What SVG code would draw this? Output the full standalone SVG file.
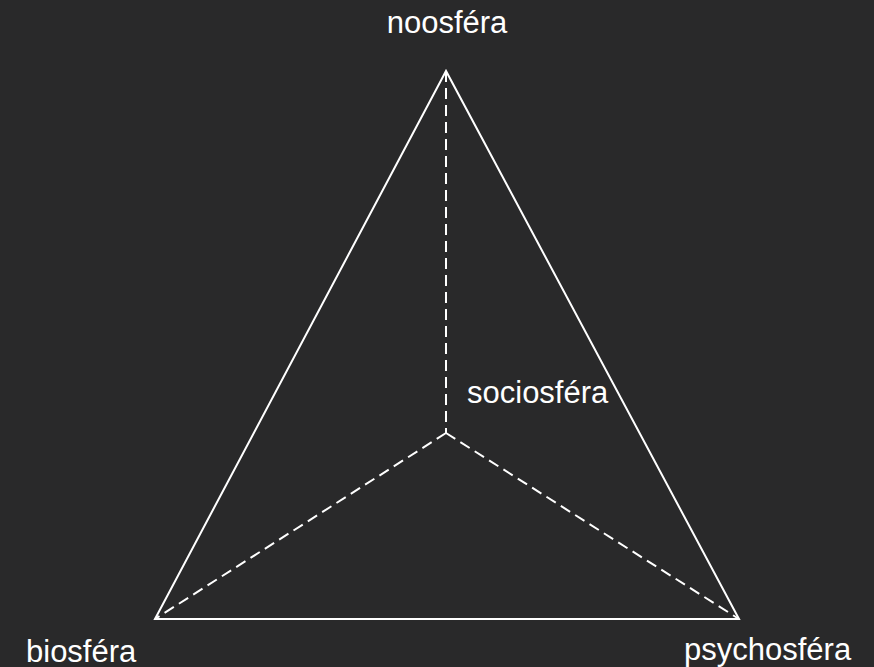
<svg xmlns="http://www.w3.org/2000/svg" width="874" height="667" viewBox="0 0 874 667">
<style>
.solid{stroke:#ffffff;stroke-width:2;fill:none;stroke-linejoin:miter}
.dash{stroke:#ffffff;stroke-width:2;fill:none;stroke-dasharray:11 6}
.lbl{font-family:"Liberation Sans",Arial,sans-serif;font-size:31px;fill:#ffffff}
</style>
<rect width="874" height="667" fill="#29292a"/>
<g id="connectors">
<polygon class="solid" points="446,71 155,619 739,619"/>
<line class="dash" x1="446" y1="71" x2="446" y2="433"/>
<line class="dash" x1="446" y1="433" x2="155" y2="619"/>
<line class="dash" x1="446" y1="433" x2="739" y2="619"/>
</g>
<g id="noosfera"><text class="lbl" x="447" y="33" text-anchor="middle">noosféra</text></g>
<g id="sociosfera"><text class="lbl" x="467" y="403">sociosféra</text></g>
<g id="biosfera"><text class="lbl" x="26" y="662">biosféra</text></g>
<g id="psychosfera"><text class="lbl" x="684" y="660">psychosféra</text></g>
</svg>
